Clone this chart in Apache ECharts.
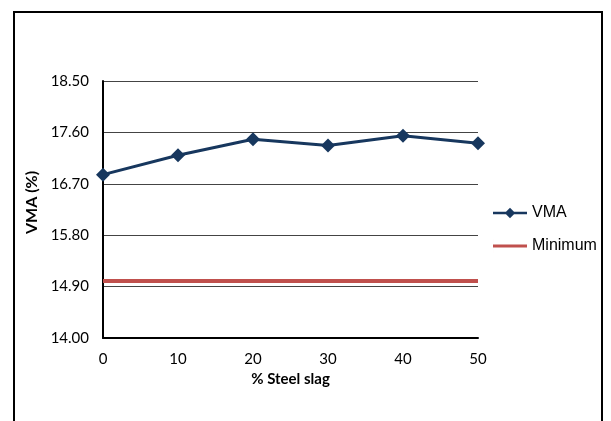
<!DOCTYPE html>
<html>
<head>
<meta charset="utf-8">
<script src="https://cdn.jsdelivr.net/npm/echarts@6/dist/echarts.min.js"></script>
<style>
  html, body { margin: 0; padding: 0; background: #fff; }
  #chart { width: 611px; height: 421px; }
</style>
</head>
<body>
<div id="chart"></div>
<script>
// Steel slag content (%) on the x axis
const slagPercent = ['0', '10', '20', '30', '40', '50'];
// Voids in mineral aggregate for each mix
const vmaValues = [16.86, 17.20, 17.48, 17.37, 17.54, 17.41];
// Specification minimum VMA
const minimumValues = [15.0, 15.0, 15.0, 15.0, 15.0, 15.0];
// Y axis range and step
const yMin = 14.0, yMax = 18.5, yStep = 0.9;

const chart = echarts.init(document.getElementById('chart'), null, { renderer: 'canvas' });

chart.setOption({
  animation: false,
  backgroundColor: '#fff',
  graphic: [{
    type: 'rect',
    shape: { x: 14, y: 12, width: 588, height: 430 },
    style: { fill: 'none', stroke: '#000', lineWidth: 2 },
    silent: true
  }],
  grid: { left: 103, right: 133, top: 81, bottom: 83, containLabel: false },
  legend: {
    orient: 'vertical',
    left: 488,
    top: 200,
    itemGap: 17,
    itemWidth: 34,
    itemHeight: 14,
    textStyle: { fontFamily: 'Liberation Sans', fontSize: 16, color: '#000' },
    data: [
      { name: 'VMA', icon: 'path://M0,6 L13,6 L17,2 L21,6 L34,6 L34,8.5 L21,8.5 L17,12.5 L13,8.5 L0,8.5 Z' },
      { name: 'Minimum', icon: 'path://M0,0 L0.01,0 L0.01,14 L0,14 Z M0,5.5 L34,5.5 L34,8.5 L0,8.5 Z' }
    ]
  },
  xAxis: {
    type: 'category',
    data: slagPercent,
    boundaryGap: false,
    name: '% Steel slag',
    nameLocation: 'middle',
    nameGap: 30,
    nameTextStyle: { fontFamily: 'Lato', fontWeight: 'bold', fontSize: 15, color: '#000' },
    axisLine: { lineStyle: { color: '#000', width: 2 } },
    axisTick: { show: false },
    axisLabel: { fontFamily: 'Lato', fontSize: 15, color: '#000', margin: 14 },
    splitLine: { show: false }
  },
  yAxis: {
    type: 'value',
    min: yMin,
    max: yMax,
    interval: yStep,
    name: 'VMA (%)',
    nameLocation: 'middle',
    nameGap: 60,
    nameRotate: 90,
    nameTextStyle: {
      fontFamily: 'Lato', fontWeight: 'bold', fontSize: 16, color: '#000',
      padding: [0, 0, 0, 14]
    },
    axisLine: { show: true, lineStyle: { color: '#000', width: 2 } },
    axisTick: { show: false },
    axisLabel: {
      fontFamily: 'Lato', fontSize: 15, color: '#000', margin: 14,
      formatter: v => v.toFixed(2)
    },
    splitLine: { show: true, lineStyle: { color: '#444', width: 1 } }
  },
  series: [
    {
      name: 'VMA',
      type: 'line',
      data: vmaValues,
      symbol: 'diamond',
      symbolSize: 14,
      lineStyle: { color: '#17375E', width: 3 },
      itemStyle: { color: '#17375E' },
      z: 3
    },
    {
      name: 'Minimum',
      type: 'line',
      data: minimumValues,
      symbol: 'none',
      lineStyle: { color: '#C0504D', width: 4 },
      itemStyle: { color: '#C0504D' },
      z: 2
    }
  ]
});
</script>
</body>
</html>
